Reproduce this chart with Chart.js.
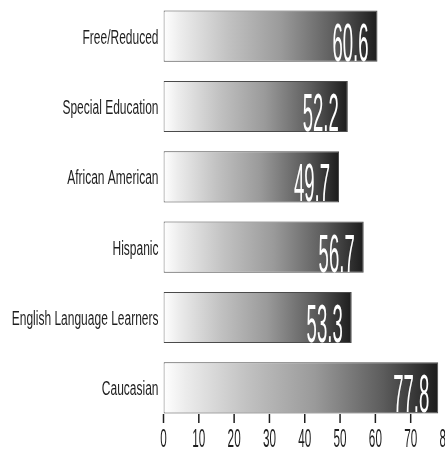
<!DOCTYPE html>
<html>
<head>
<meta charset="utf-8">
<script src="https://cdn.jsdelivr.net/npm/chart.js@4.4.1/dist/chart.umd.min.js"></script>
<style>
    html, body { margin: 0; padding: 0; background: #fff; overflow: hidden; }
    #wrap { width: 447px; height: 451px; position: relative; }
</style>
</head>
<body>
<div id="wrap"><canvas id="rateChart"></canvas></div>
<script>
const categories = ['Free/Reduced', 'Special Education', 'African American', 'Hispanic', 'English Language Learners', 'Caucasian'];
const rates = [60.6, 52.2, 49.7, 56.7, 53.3, 77.8];
const xTicks = [0, 10, 20, 30, 40, 50, 60, 70, 80];

const FONT = '"Liberation Sans", Arial, Helvetica, sans-serif';

// Arial-style glyphs squeezed sideways to get the narrow look
function squeezedText(ctx, text, px, py, sx, align) {
    ctx.save();
    ctx.translate(px, py);
    ctx.scale(sx, 1);
    ctx.textAlign = align;
    ctx.fillText(text, 0, 0);
    ctx.restore();
}

// white -> near black, spread across each bar's own length
function barGradient(context) {
    const chart = context.chart;
    if (!chart.chartArea || context.dataIndex === undefined) return '#999';
    const x = chart.scales.x;
    const x0 = x.getPixelForValue(0);
    const x1 = x.getPixelForValue(rates[context.dataIndex]);
    const g = chart.ctx.createLinearGradient(x0, 0, x1, 0);
    g.addColorStop(0, '#ffffff');
    g.addColorStop(0.08, '#ececec');
    g.addColorStop(0.3, '#c2c2c2');
    g.addColorStop(0.55, '#9a9a9a');
    g.addColorStop(0.8, '#5c5c5c');
    g.addColorStop(1, '#1c1c1c');
    return g;
}

const textLayer = {
    id: 'textLayer',
    afterDatasetsDraw(chart) {
        const { ctx, chartArea, scales: { x, y } } = chart;
        const meta = chart.getDatasetMeta(0);
        ctx.save();

        // x tick marks, drawn up from the bottom edge of the plot
        ctx.strokeStyle = '#1e1e1e';
        ctx.lineWidth = 1.5;
        xTicks.forEach(v => {
            const px = x.getPixelForValue(v);
            ctx.beginPath();
            ctx.moveTo(px, chartArea.bottom - 9);
            ctx.lineTo(px, chartArea.bottom);
            ctx.stroke();
        });

        // x tick labels
        ctx.fillStyle = '#1e1e1e';
        ctx.font = '26px ' + FONT;
        ctx.textBaseline = 'alphabetic';
        xTicks.forEach(v => {
            squeezedText(ctx, String(v), x.getPixelForValue(v), chartArea.bottom + 24, 0.45, 'center');
        });

        // category names left of the bars
        ctx.font = '20px ' + FONT;
        ctx.textBaseline = 'middle';
        categories.forEach((c, i) => {
            squeezedText(ctx, c, chartArea.left - 5, y.getPixelForValue(i) + 2, 0.6, 'right');
        });

        // values inside the dark end of each bar
        ctx.fillStyle = '#ffffff';
        ctx.font = '53px ' + FONT;
        ctx.textBaseline = 'alphabetic';
        rates.forEach((v, i) => {
            const bar = meta.data[i];
            const bottom = bar.y + bar.height / 2;
            squeezedText(ctx, v.toFixed(1), x.getPixelForValue(v) - 9, bottom - 1, 0.35, 'right');
        });

        ctx.restore();
    }
};

new Chart(document.getElementById('rateChart'), {
    type: 'bar',
    data: {
        labels: categories,
        datasets: [{
            data: rates,
            backgroundColor: barGradient,
            borderColor: '#4a4a4a',
            borderWidth: 1,
            borderSkipped: false,
            barPercentage: 0.727,
            categoryPercentage: 1
        }]
    },
    options: {
        indexAxis: 'y',
        responsive: true,
        maintainAspectRatio: false,
        animation: false,
        layout: { padding: { top: 1, right: 1, left: 0, bottom: 0 } },
        plugins: {
            legend: { display: false },
            tooltip: { enabled: false }
        },
        scales: {
            x: {
                min: 0,
                max: 80,
                ticks: { stepSize: 10, display: false },
                grid: { display: false },
                border: { display: false },
                afterFit: s => { s.height = 28; }
            },
            y: {
                ticks: { display: false },
                grid: { display: false },
                border: { display: false },
                afterFit: s => { s.width = 163.5; }
            }
        }
    },
    plugins: [textLayer]
});
</script>
</body>
</html>
